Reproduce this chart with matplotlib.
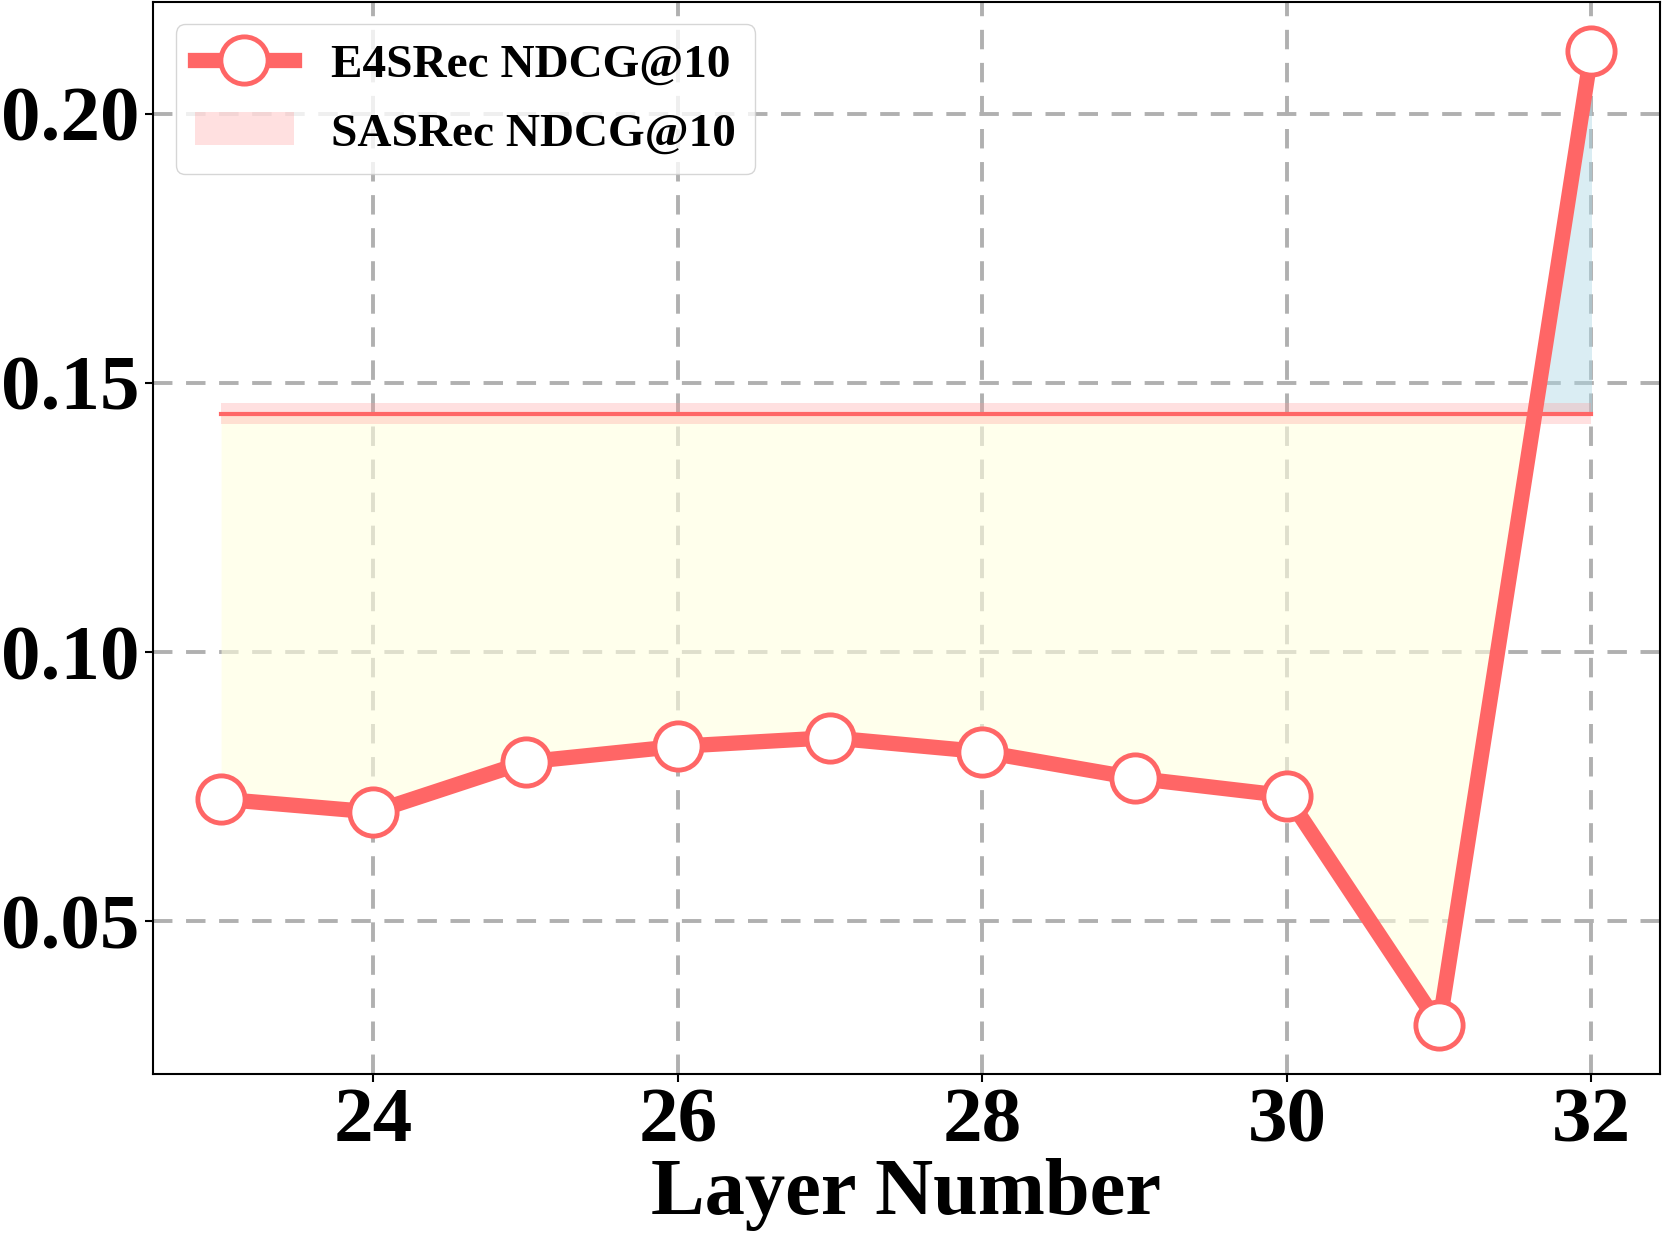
import matplotlib
matplotlib.use("Agg")
import matplotlib.pyplot as plt
import numpy as np

layers = [23, 24, 25, 26, 27, 28, 29, 30, 31, 32]
e4srec_ndcg = [0.0727, 0.0703, 0.0796, 0.0825, 0.0841, 0.0815, 0.0766, 0.0733, 0.0307, 0.2116]
sasrec_ndcg = 0.1443
sasrec_band = 0.002
xticks = [24, 26, 28, 30, 32]
yticks = [0.05, 0.10, 0.15, 0.20]

plt.rcParams['font.family'] = ['Liberation Serif', 'DejaVu Serif']
plt.rcParams['font.weight'] = 'bold'

fig = plt.figure(figsize=(16.62, 12.35), dpi=100)
ax = fig.add_axes([0.0918, 0.1304, 0.9070, 0.8676])

x = np.array(layers, dtype=float)
y = np.array(e4srec_ndcg)
base = np.full_like(x, sasrec_ndcg)

ax.fill_between(x, y, base, where=y < base, interpolate=True, color='#FFFFE0', alpha=0.6, linewidth=0, zorder=1)
ax.fill_between(x, y, base, where=y >= base, interpolate=True, color='#ADD8E6', alpha=0.45, linewidth=0, zorder=1)
ax.fill_between(x, base - sasrec_band, base + sasrec_band, color='#FF9999', alpha=0.3, linewidth=0,
                label='SASRec NDCG@10', zorder=2)
ax.plot(x, base, color='#FF6666', linewidth=3, zorder=3)
ax.plot(x, y, color='#FF6666', linewidth=11, marker='o', markersize=34, markerfacecolor='white',
        markeredgecolor='#FF6666', markeredgewidth=3.5, label='E4SRec NDCG@10', zorder=4)

ax.set_xticks(xticks)
ax.set_yticks(yticks)
ax.set_yticklabels([f"{v:.2f}" for v in yticks])
ax.tick_params(axis='both', labelsize=57, length=6, width=1.5)
for lab in ax.get_xticklabels() + ax.get_yticklabels():
    lab.set_fontweight('bold')
ax.set_xlabel('Layer Number', fontsize=58, fontweight='bold', labelpad=0)
ax.grid(True, linestyle='--', color='#b0b0b0', linewidth=2.8, dashes=(5, 3.5))
ax.set_axisbelow(True)
for s in ax.spines.values():
    s.set_linewidth(1.5)

handles, labels = ax.get_legend_handles_labels()
order = [labels.index('E4SRec NDCG@10'), labels.index('SASRec NDCG@10')]
leg = ax.legend([handles[i] for i in order], [labels[i] for i in order], loc='upper left',
                bbox_to_anchor=(0.0153, 0.9795), borderaxespad=0, prop={'size': 34, 'weight': 'bold'},
                framealpha=0.8, edgecolor='#cccccc', handlelength=2.1, borderpad=0.4,
                labelspacing=0.55, handletextpad=0.8)

fig.savefig('out.png', dpi=100)
